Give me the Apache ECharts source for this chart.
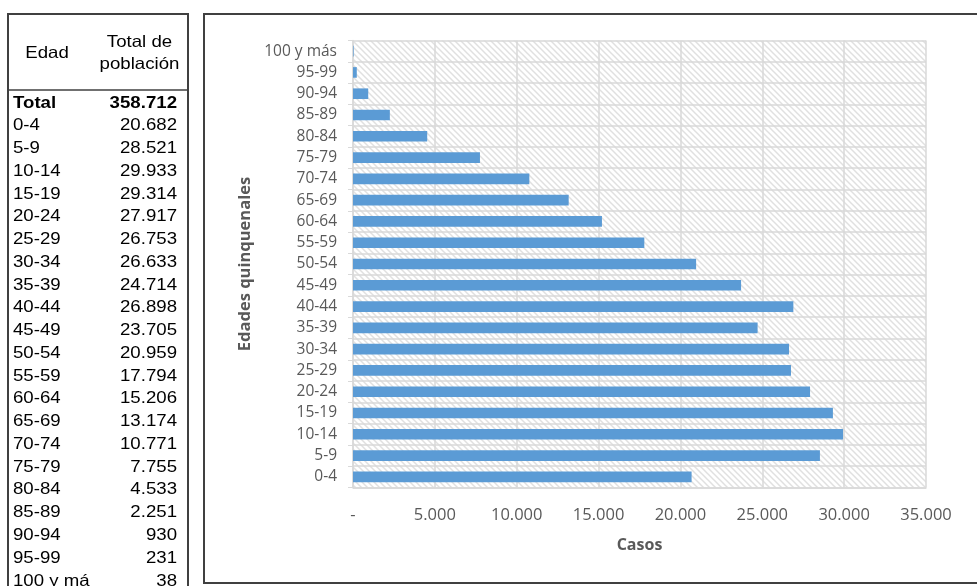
<!DOCTYPE html>
<html>
<head>
<meta charset="utf-8">
<script src="https://cdn.jsdelivr.net/npm/echarts@6/dist/echarts.min.js"></script>
<style>
html,body{margin:0;padding:0;background:#fff;}
#c{width:977px;height:586px;}
</style>
</head>
<body>
<div id="c"></div>
<script>
// ---- data ----
var categories = ['0-4','5-9','10-14','15-19','20-24','25-29','30-34','35-39','40-44','45-49','50-54','55-59','60-64','65-69','70-74','75-79','80-84','85-89','90-94','95-99','100 y más'];
var tableLabels = ['0-4','5-9','10-14','15-19','20-24','25-29','30-34','35-39','40-44','45-49','50-54','55-59','60-64','65-69','70-74','75-79','80-84','85-89','90-94','95-99','100 y má'];
var values = [20682,28521,29933,29314,27917,26753,26633,24714,26898,23705,20959,17794,15206,13174,10771,7755,4533,2251,930,231,38];
var xTicks = [0,5000,10000,15000,20000,25000,30000,35000];

function fmt(v){
  if (v === 0) return '-';
  return String(v).replace(/\B(?=(\d{3})+(?!\d))/g, '.');
}

// hatch pattern
var pc = document.createElement('canvas');
pc.width = 6; pc.height = 6;
var g = pc.getContext('2d');
g.fillStyle = '#ffffff'; g.fillRect(0,0,6,6);
g.strokeStyle = '#e0e0e0'; g.lineWidth = 1.5;
g.beginPath();
g.moveTo(-1,-1); g.lineTo(7,7);
g.moveTo(-4,2); g.lineTo(4,10);
g.moveTo(2,-4); g.lineTo(10,4);
g.stroke();

var total = values.reduce(function(a,b){return a+b;},0);

var tableFont = 'Liberation Sans, Arial, sans-serif';
var TS = 1.13; // horizontal text stretch
var graphics = [];
// table frame
graphics.push({type:'rect', shape:{x:8,y:14,width:180,height:600}, style:{fill:'none', stroke:'#404040', lineWidth:2}, silent:true});
graphics.push({type:'line', shape:{x1:8,y1:90,x2:188,y2:90}, style:{stroke:'#404040', lineWidth:1.5}, silent:true});
// chart frame
graphics.push({type:'rect', shape:{x:204,y:14,width:800,height:569}, style:{fill:'none', stroke:'#404040', lineWidth:2}, silent:true});
function txt(x,y,s,bold,align){
  return {type:'text', x:x, y:y, scaleX:TS, style:{text:s, font:(bold?'bold ':'')+'16.5px '+tableFont, fill:'#000', align:align, verticalAlign:'middle'}};
}
// header
graphics.push(txt(47,53,'Edad',false,'center'));
graphics.push(txt(139.5,42,'Total de',false,'center'));
graphics.push(txt(139.5,64,'población',false,'center'));
var rowY0 = 103, rowH = 22.76;
graphics.push(txt(13,rowY0,'Total',true,'left'));
graphics.push(txt(177,rowY0,fmt(total),true,'right'));
for (var i=0;i<tableLabels.length;i++){
  var y = rowY0 + (i+1)*rowH;
  graphics.push(txt(13,y,tableLabels[i],false,'left'));
  graphics.push(txt(177,y,fmt(values[i]),false,'right'));
}

var chart = echarts.init(document.getElementById('c'), null, {renderer:'canvas'});
var axisFont = 'Open Sans, Noto Sans, sans-serif';
chart.setOption({
  animation:false,
  backgroundColor:'#ffffff',
  grid:{left:353, right:51, top:40.5, bottom:98.5, show:true, borderWidth:0, backgroundColor:{image:pc, repeat:'repeat'}},
  xAxis:{
    type:'value', min:xTicks[0], max:xTicks[xTicks.length-1], interval:5000,
    axisLine:{show:true, lineStyle:{color:'#d9d9d9', width:1.5}},
    axisTick:{show:false},
    splitLine:{show:true, lineStyle:{color:'#d9d9d9', width:1.5}},
    axisLabel:{formatter:function(v){return fmt(v);}, color:'#595959', fontSize:16.5, fontFamily:axisFont, margin:19},
    name:'Casos', nameLocation:'middle', nameGap:50,
    nameTextStyle:{color:'#595959', fontSize:16, fontWeight:'bold', fontFamily:axisFont}
  },
  yAxis:{
    type:'category', data:categories,
    axisLine:{show:true, lineStyle:{color:'#d9d9d9', width:1.5}},
    axisTick:{show:true, length:5, lineStyle:{color:'#d9d9d9'}},
    splitLine:{show:true, lineStyle:{color:'#d9d9d9', width:1.5}},
    axisLabel:{color:'#595959', fontSize:15.5, fontFamily:axisFont, margin:16},
    name:'Edades quinquenales', nameLocation:'middle', nameGap:99, nameRotate:90,
    nameTextStyle:{color:'#595959', fontSize:16.5, fontWeight:'bold', fontFamily:axisFont}
  },
  series:[{
    type:'bar', data:values, barCategoryGap:'50%',
    itemStyle:{color:'#5b9bd5'}
  }],
  graphic:graphics
});
</script>
</body>
</html>
